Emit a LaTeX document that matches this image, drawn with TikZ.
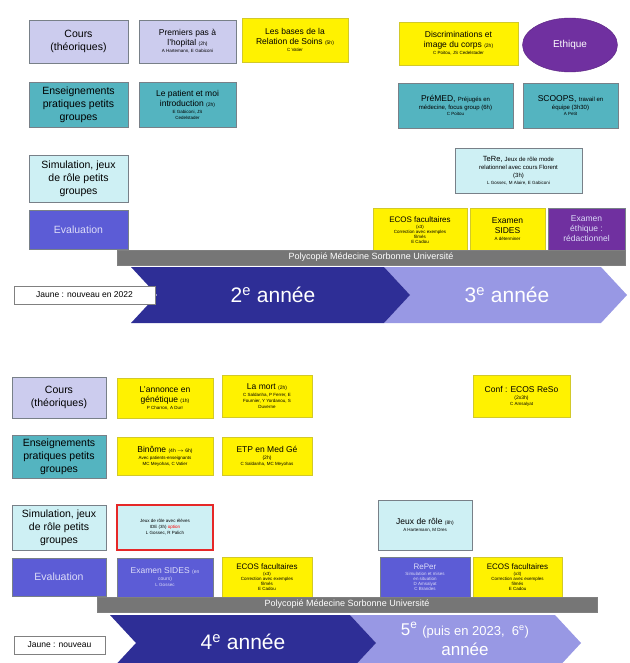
\documentclass[tikz,border=0pt]{standalone}
\usepackage{fontspec}
\setmainfont{Liberation Sans}
\usepackage{xcolor}
\usetikzlibrary{shapes.geometric}

\definecolor{lavender}{RGB}{204,204,238}
\definecolor{tealbg}{RGB}{84,180,192}
\definecolor{cyanbg}{RGB}{206,240,244}
\definecolor{evalblue}{RGB}{92,92,214}
\definecolor{ethpurple}{RGB}{112,48,160}
\definecolor{navy}{RGB}{46,46,150}
\definecolor{lightnavy}{RGB}{152,152,228}
\definecolor{bargrey}{RGB}{118,118,118}
\definecolor{boxline}{RGB}{120,128,136}
\definecolor{palelav}{RGB}{220,220,248}
\definecolor{optred}{RGB}{230,40,40}

\newcommand{\dur}[1]{{\fontsize{5}{6}\selectfont #1}}
\newcommand{\who}[1]{{\fontsize{4.5}{5.5}\selectfont #1}}
\newcommand{\sm}[1]{{\fontsize{6}{7}\selectfont #1}}

\begin{document}
\begin{tikzpicture}[x=1pt, y=-1pt,
    entrybox/.style={draw=boxline, line width=0.5pt, align=center, inner sep=1pt,
        font=\fontsize{8.5}{10}\selectfont},
    catbox/.style={entrybox, font=\fontsize{10.5}{13}\selectfont},
    sz/.style 2 args={minimum width=#1pt, minimum height=#2pt},
    yelbox/.style={entrybox, fill=yellow, draw=yellow!80!black},
    evalbox/.style={entrybox, fill=evalblue, text=palelav},
    polybar/.style={fill=bargrey, draw=gray, text=white, inner sep=0pt,
        font=\fontsize{9}{10}\selectfont},
    yeartext/.style={text=white, font=\fontsize{21}{23}\selectfont, align=center},
    jaunebox/.style={draw=gray, fill=white, inner sep=1pt, font=\fontsize{8.5}{10}\selectfont}]
    \useasboundingbox (0,0) rectangle (629,663);
    \clip (0,0) rectangle (629,663);

    % 2e / 3e annee
    \node[catbox, fill=lavender, sz={99}{43}] (cours1) at (78.5,41.5) {Cours\\(théoriques)};
    \node[entrybox, fill=lavender, sz={97}{43}] (prem) at (187.5,41.5)
        {Premiers pas à\\l'hopital \dur{(2h)}\\[-3pt]\who{A Hartemann, E Gabiconi}};
    \node[yelbox, sz={106}{44}] (bases) at (295,40)
        {Les bases de la\\Relation de Soins \dur{(5h)}\\[-3pt]\who{C Vatier}};
    \node[yelbox, sz={119}{43}] (discr) at (458.5,43.5)
        {Discriminations et\\image du corps \dur{(2h)}\\[-3pt]\who{C Poitou, JS Cedelstader}};
    \node[ellipse, fill=ethpurple, draw=ethpurple!80!black, sz={95}{54}, text=white,
        font=\fontsize{10}{12}\selectfont] (ethique) at (570,45) {Ethique};

    \node[catbox, fill=tealbg, sz={99}{45}] (ens1) at (78.5,104.5) {Enseignements\\pratiques petits\\groupes};
    \node[entrybox, fill=tealbg, sz={97}{45}] (patient) at (187.5,104.5)
        {Le patient et moi\\introduction \dur{(2h)}\\[-3pt]\who{E Gabiconi, JS}\\[-4pt]\who{Cedelstader}};
    \node[entrybox, fill=tealbg, sz={115}{45}] (premed) at (455.5,105.5)
        {PréMED, \sm{Préjugés en}\\[-2pt]\sm{médecine, focus group (6h)}\\[-4pt]\who{C Poitou}};
    \node[entrybox, fill=tealbg, sz={95}{45}] (scoops) at (570.5,105.5)
        {SCOOPS, \sm{travail en}\\[-2pt]\sm{équipe (3h30)}\\[-4pt]\who{A Petit}};

    \node[catbox, fill=cyanbg, sz={99}{47}] (sim1) at (78.5,178.5) {Simulation, jeux\\de rôle petits\\groupes};
    \node[entrybox, fill=cyanbg, sz={127}{45}, font=\fontsize{7.5}{8.5}\selectfont] (tere) at (518.5,170.5)
        {TeRe, \sm{Jeux de rôle mode}\\\sm{relationnel avec cours Florent}\\[-1pt]\sm{(3h)}\\[-1pt]\who{L Gossec, M Alaire, E Gabiconi}};

    \node[evalbox, sz={99}{39}, font=\fontsize{10.5}{13}\selectfont] (eval1) at (78.5,229.5) {Evaluation};
    \node[yelbox, sz={94}{44}, font=\fontsize{8}{9}\selectfont] (ecos1) at (420,230)
        {ECOS facultaires\\[-3pt]\who{(x3)}\\[-4pt]\who{Correction avec exemples}\\[-4pt]\who{filmés}\\[-4pt]\who{E Cadou}};
    \node[yelbox, sz={75}{42}] (sides1) at (507.5,229) {Examen\\SIDES\\[-3pt]\who{A déterminer}};
    \node[entrybox, fill=ethpurple, text=palelav, sz={77}{42}] (ethexam) at (586.5,229)
        {Examen\\éthique :\\rédactionnel};

    \node[polybar, sz={508}{15}] (bar1) at (371,257.5) {Polycopié Médecine Sorbonne Université};

    \fill[lightnavy] (384,267) -- (601,267) -- (627,295) -- (601,323) -- (384,323) -- (410,295) -- cycle;
    \fill[navy] (131,267) -- (384,267) -- (410,295) -- (384,323) -- (131,323) -- (157,295) -- cycle;
    \node[jaunebox, sz={141}{18}] (jaune1) at (84.5,295) {Jaune : nouveau en 2022};
    \node[yeartext] (an2) at (273,295) {2\textsuperscript{e} année};
    \node[yeartext] (an3) at (507,295) {3\textsuperscript{e} année};

    % 4e / 5e annee
    \node[catbox, fill=lavender, sz={94}{41}] (cours2) at (59,397.5) {Cours\\(théoriques)};
    \node[yelbox, sz={96}{40}] (annonce) at (165,398)
        {L'annonce en\\génétique \dur{(1h)}\\[-3pt]\who{P Charron, A Durr}};
    \node[yelbox, sz={90}{42}] (mort) at (267,396)
        {La mort \dur{(2h)}\\[-3pt]\who{C Saldanha, P Ferrer, E}\\[-4pt]\who{Fournier, Y Yordanou, S}\\[-4pt]\who{Duverne}};
    \node[yelbox, sz={97}{42}] (conf) at (521.5,396)
        {Conf : ECOS ReSo\\[-3pt]\dur{(2x3h)}\\[-4pt]\who{C Amsalyat}};

    \node[catbox, fill=tealbg, sz={94}{43}] (ens2) at (59,456.5) {Enseignements\\pratiques petits\\groupes};
    \node[yelbox, sz={96}{38}] (binome) at (165,456)
        {Binôme \dur{(4h $\rightarrow$ 6h)}\\[-3pt]\who{Avec patients-enseignants}\\[-4pt]\who{MC Meyohas, C Vatier}};
    \node[yelbox, sz={90}{38}] (etp) at (267,456)
        {ETP en Med Gé\\[-3pt]\dur{(2h)}\\[-4pt]\who{C Saldanha, MC Meyohas}};

    \node[catbox, fill=cyanbg, sz={94}{45}] (sim2) at (59,527.5) {Simulation, jeux\\de rôle petits\\groupes};
    \node[entrybox, fill=cyanbg, draw=optred, line width=1.3pt, sz={96}{45}] (jeuxide) at (165,527.5)
        {\who{Jeux de rôle avec élèves}\\[-4pt]\who{IDE (3h) \textcolor{red}{option}}\\[-4pt]\who{L Gossec, R Palich}};
    \node[entrybox, fill=cyanbg, sz={94}{50}] (jeux8) at (425,525)
        {Jeux de rôle \dur{(8h)}\\[-3pt]\who{A Hartemann, M Dres}};

    \node[evalbox, sz={94}{38}, font=\fontsize{10.5}{13}\selectfont] (eval2) at (59,577) {Evaluation};
    \node[evalbox, sz={96}{39}] (sides2) at (165,577.5)
        {Examen SIDES \dur{(en}\\[-3pt]\dur{cours)}\\[-4pt]\who{L Gossec}};
    \node[yelbox, sz={90}{40}, font=\fontsize{8}{9}\selectfont] (ecos2) at (267,577)
        {ECOS facultaires\\[-3pt]\who{(x3)}\\[-4pt]\who{Correction avec exemples}\\[-4pt]\who{filmés}\\[-4pt]\who{E Cadou}};
    \node[evalbox, sz={90}{40}, font=\fontsize{8}{9}\selectfont] (reper) at (425,577)
        {RePer\\[-3pt]\who{Simulation et mises}\\[-4pt]\who{en situation}\\[-4pt]\who{D Amsalyat}\\[-4pt]\who{C Brandes}};
    \node[yelbox, sz={89}{40}, font=\fontsize{8}{9}\selectfont] (ecos3) at (517.5,577)
        {ECOS facultaires\\[-3pt]\who{(x3)}\\[-4pt]\who{Correction avec exemples}\\[-4pt]\who{filmés}\\[-4pt]\who{E Cadou}};

    \node[polybar, sz={500}{15}] (bar2) at (347,604.5) {Polycopié Médecine Sorbonne Université};

    \fill[lightnavy] (350,615) -- (555,615) -- (581,643) -- (555,671) -- (350,671) -- (376,643) -- cycle;
    \fill[navy] (110,615) -- (350,615) -- (376,643) -- (350,671) -- (110,671) -- (136,643) -- cycle;
    \node[jaunebox, sz={91}{18}] (jaune2) at (59.5,645) {Jaune : nouveau};
    \node[yeartext] (an4) at (243,642) {4\textsuperscript{e} année};
    \node[yeartext, font=\fontsize{17}{20}\selectfont] (an5) at (465,639)
        {5\textsuperscript{e} {\fontsize{13}{15}\selectfont (puis en 2023,~ 6\textsuperscript{e})}\\année};
\end{tikzpicture}
\end{document}
